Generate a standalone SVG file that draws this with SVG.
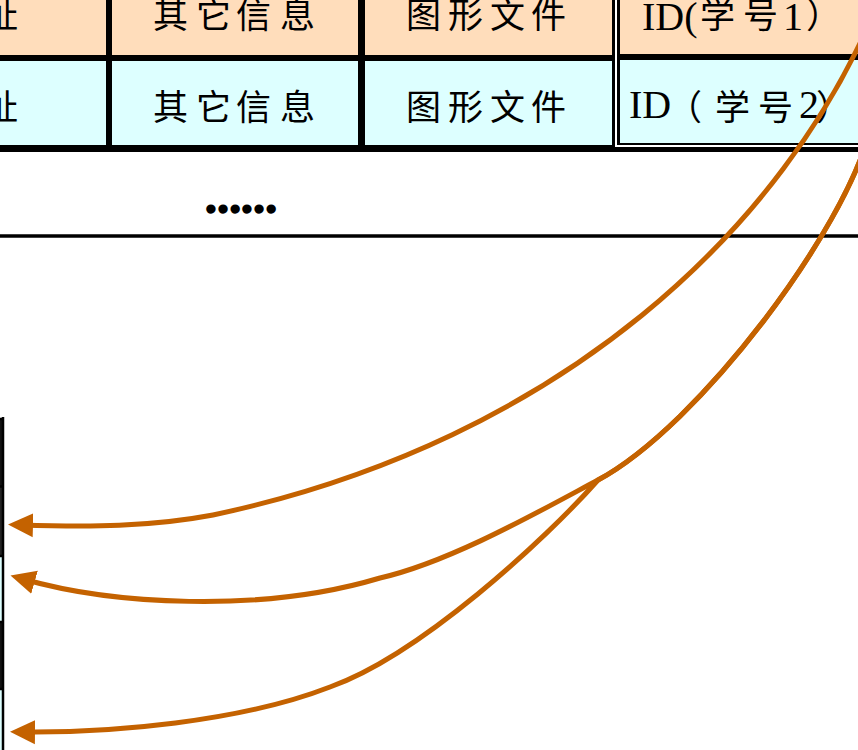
<svg xmlns="http://www.w3.org/2000/svg" width="858" height="750" viewBox="0 0 858 750">
<style>
.peach{fill:#FFDDBB}
.cyan{fill:#DDFFFF}
.cjk{font-family:"Noto Sans CJK SC","Liberation Serif",sans-serif;font-size:35px;fill:#000}
.lat{font-family:"Liberation Serif","Noto Sans CJK SC",serif;font-size:40px;fill:#000}
.dots{font-family:"Liberation Serif",serif;font-size:36px;font-weight:bold;fill:#000;stroke:#000;stroke-width:3.5;stroke-linejoin:round}
.arrow{fill:none;stroke:#C46200;stroke-width:5;stroke-linejoin:round}
</style>
<defs>
<marker id="head" markerUnits="userSpaceOnUse" markerWidth="32" markerHeight="32" viewBox="0 -16 32 32" refX="12" refY="0" orient="auto">
<path d="M0,-12 L25,0 L0,12 Z" fill="#C46200"/>
</marker>
</defs>
<rect x="0" y="0" width="858" height="750" fill="#fff"/>
<g id="table">
<rect x="-10" y="-10" width="878" height="162" fill="#000"/>
<g id="r1c1"><rect class="peach" x="-10" y="-10" width="116" height="65"/><text class="cjk" x="-17" y="28">址</text></g>
<g id="r1c2"><rect class="peach" x="112" y="-10" width="246" height="65"/><text class="cjk" x="153 196 236 280" y="28">其它信息</text></g>
<g id="r1c3"><rect class="peach" x="365" y="-10" width="247" height="65"/><text class="cjk" x="406 448 490 531" y="28">图形文件</text></g>
<g id="r1c4"><rect class="peach" x="620" y="-10" width="248" height="64"/><text y="30"><tspan class="lat" x="642">ID(</tspan><tspan class="cjk" x="700 743" y="28">学号</tspan><tspan class="lat" x="783" y="30">1</tspan><tspan class="cjk" x="806" y="28">）</tspan></text></g>
<g id="r2c1"><rect class="cyan" x="-10" y="61" width="116" height="84"/><text class="cjk" x="-17" y="120">址</text></g>
<g id="r2c2"><rect class="cyan" x="112" y="61" width="246" height="84"/><text class="cjk" x="153 196 236 280" y="120">其它信息</text></g>
<g id="r2c3"><rect class="cyan" x="365" y="61" width="247" height="84"/><text class="cjk" x="406 448 490 531" y="120">图形文件</text></g>
<g id="r2c4"><rect class="cyan" x="620" y="60" width="248" height="83"/><text y="118"><tspan class="lat" x="629">ID</tspan><tspan class="cjk" x="667 715 758" y="120">（学号</tspan><tspan class="lat" x="799" y="118">2</tspan><tspan class="cjk" x="816" y="120">）</tspan></text></g>
<rect x="615" y="-10" width="2" height="157" fill="#fff"/>
<rect x="615" y="145" width="253" height="2" fill="#fff"/>
</g>
<g id="ellipsis"><text class="dots" x="241" y="212" text-anchor="middle">……</text></g>
<g id="divider"><line x1="-5" y1="236" x2="863" y2="236" stroke="#000" stroke-width="3.5"/></g>
<g id="leftboxes">
<rect x="-20" y="418" width="24" height="68" fill="#111"/>
<rect x="-20" y="486" width="24" height="70" fill="#222"/>
<rect x="-20" y="556" width="24" height="66" fill="#DDFFFF"/>
<rect x="-20" y="622" width="24" height="67" fill="#111"/>
<rect x="-20" y="689" width="24" height="70" fill="#DDFFFF"/>
<g stroke="#000" stroke-width="2.5" fill="none">
<line x1="3" y1="417" x2="3" y2="760"/>
<line x1="-5" y1="419" x2="4" y2="419"/>
<line x1="-5" y1="486.5" x2="4" y2="486.5"/>
<line x1="-5" y1="556" x2="4" y2="556"/>
<line x1="-5" y1="622" x2="4" y2="622"/>
<line x1="-5" y1="689" x2="4" y2="689"/>
</g>
</g>
<g id="connectors">
<path class="arrow" marker-end="url(#head)" d="M875,10 C785,225 565,440 213,515 C150,527 90,527 21,525"/>
<path class="arrow" marker-end="url(#head)" d="M870,130 C845,230 700,425 598,480 C538,512 450,562 380,578 C260,614 110,604 23,579"/>
<path class="arrow" marker-end="url(#head)" d="M870,130 C845,230 700,425 598,480 C545,540 420,655 330,687 C240,722 110,733 23,732"/>
</g>
</svg>
